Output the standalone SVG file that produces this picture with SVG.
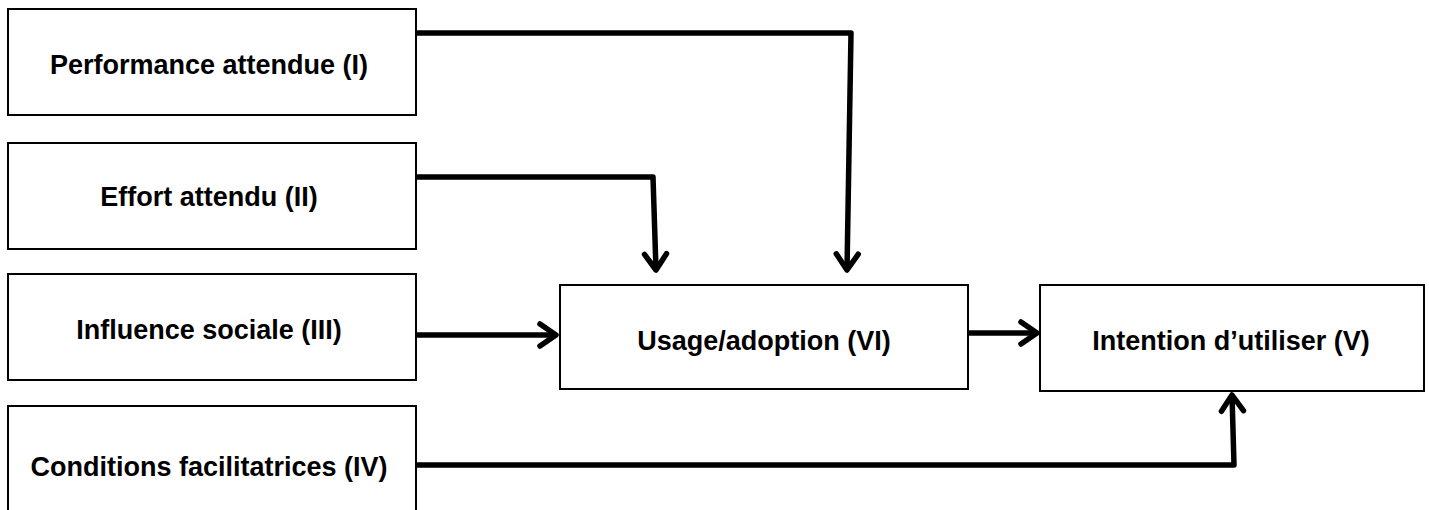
<svg xmlns="http://www.w3.org/2000/svg" width="1429" height="510" viewBox="0 0 1429 510">
<style>
.box{fill:#fff;stroke:#000;stroke-width:2}
.lbl{font-family:"Liberation Sans",Arial,sans-serif;font-weight:bold;font-size:27px;fill:#000;text-anchor:middle}
.con{fill:none;stroke:#000;stroke-width:5.5;stroke-linejoin:round}
</style>
<defs>
<marker id="arr" markerUnits="userSpaceOnUse" markerWidth="30" markerHeight="30" viewBox="-20 -15 24 30" refX="0" refY="0" orient="auto">
<path d="M -16 -11 L 0 0 L -16 11" fill="none" stroke="#000" stroke-width="5.5" stroke-linecap="round" stroke-linejoin="round"/>
</marker>
</defs>
<rect width="1429" height="510" fill="#fff"/>
<g id="n1"><rect class="box" x="8" y="9" width="408" height="106"/><text class="lbl" x="209" y="74">Performance attendue (I)</text></g>
<g id="n2"><rect class="box" x="8" y="143" width="408" height="106"/><text class="lbl" x="209" y="206">Effort attendu (II)</text></g>
<g id="n3"><rect class="box" x="8" y="274" width="408" height="106"/><text class="lbl" x="209" y="339">Influence sociale (III)</text></g>
<g id="n4"><rect class="box" x="8" y="406" width="408" height="120"/><text class="lbl" x="209" y="476">Conditions facilitatrices (IV)</text></g>
<g id="n6"><rect class="box" x="560" y="285" width="408" height="104"/><text class="lbl" x="764" y="350">Usage/adoption (VI)</text></g>
<g id="n5"><rect class="box" x="1040" y="285" width="384" height="106"/><text class="lbl" x="1231" y="350">Intention d’utiliser (V)</text></g>
<g id="connectors">
<polyline class="con" points="416,33 851,33 847,270" marker-end="url(#arr)"/>
<polyline class="con" points="416,177 653,177 656,270" marker-end="url(#arr)"/>
<polyline class="con" points="416,335 556,335" marker-end="url(#arr)"/>
<polyline class="con" points="968,333 1037,333" marker-end="url(#arr)"/>
<polyline class="con" points="416,465 1234,465 1232,395" marker-end="url(#arr)"/>
</g>
</svg>
